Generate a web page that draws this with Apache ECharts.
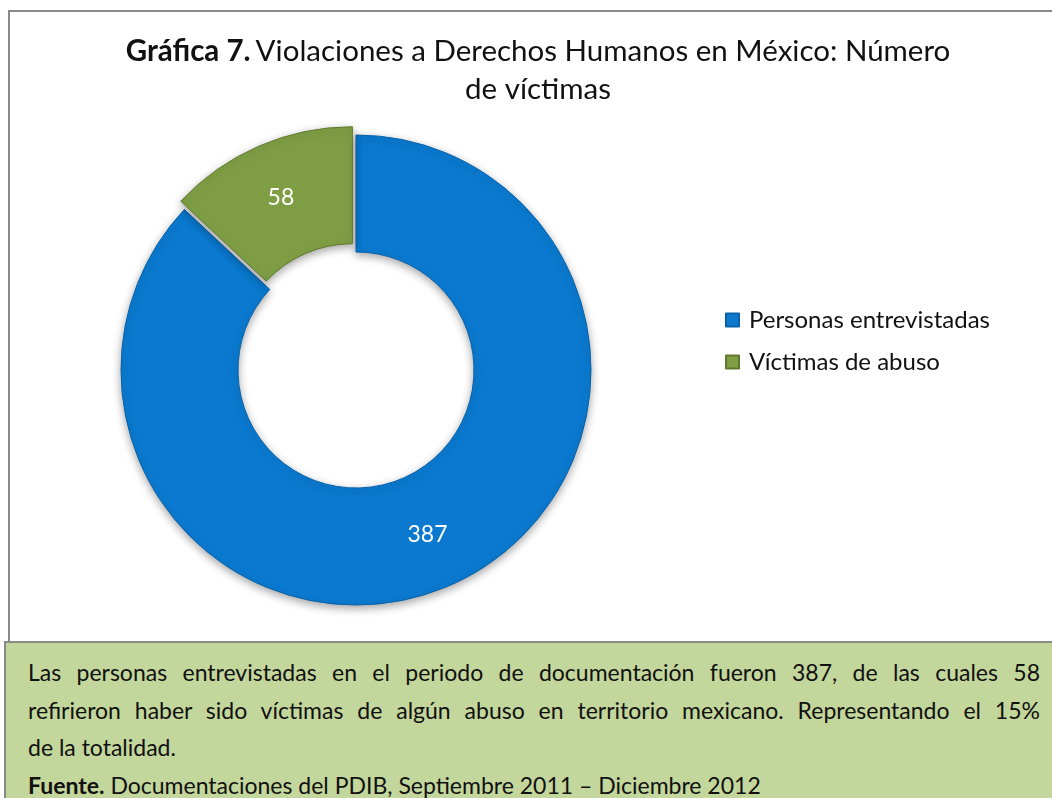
<!DOCTYPE html>
<html>
<head>
<meta charset="utf-8">
<script src="https://cdn.jsdelivr.net/npm/echarts@6/dist/echarts.min.js"></script>
<style>
  html, body { margin: 0; padding: 0; background: #fff; overflow: hidden; }
  #chart { position: absolute; left: 0; top: 0; width: 1052px; height: 798px; }
  #note {
    position: absolute; left: 4px; top: 641px; width: 1100px; height: 200px;
    background: #C3D69B; border-top: 2px solid #8a8a8a; border-left: 2px solid #8a8a8a;
    box-sizing: border-box; padding: 11px 0 0 22px;
    font-family: Lato, "Open Sans", sans-serif; font-size: 23px; color: #111;
  }
  #note .ln { width: 1012px; line-height: 37.5px; white-space: nowrap; }
  #note .j { text-align: justify; text-align-last: justify; white-space: normal; }
</style>
</head>
<body>
<div id="chart"></div>
<div id="note"></div>
<script>
// ---- data ----
const categories = ['Personas entrevistadas', 'Víctimas de abuso'];
const values = [387, 58];
const titleBold = 'Gráfica 7.';
const titleLine1 = 'Violaciones a Derechos Humanos en México: Número';
const titleLine2 = 'de víctimas';
const noteLines = [
  'Las personas entrevistadas en el periodo de documentación fueron 387, de las cuales 58',
  'refirieron haber sido víctimas de algún abuso en territorio mexicano. Representando el 15%',
  'de la totalidad.'
];
const sourceBold = 'Fuente.';
const sourceText = 'Documentaciones del PDIB, Septiembre 2011 – Diciembre 2012';

// ---- note box (HTML text, justified like the original) ----
const note = document.getElementById('note');
noteLines.forEach((t, i) => {
  const d = document.createElement('div');
  d.className = 'ln' + (i < 2 ? ' j' : '');
  d.textContent = t;
  note.appendChild(d);
});
const src = document.createElement('div');
src.className = 'ln';
const b = document.createElement('b');
b.textContent = sourceBold;
src.appendChild(b);
src.appendChild(document.createTextNode(' ' + sourceText));
note.appendChild(src);

// ---- chart ----
const FONT = 'Lato, "Open Sans", sans-serif';
const sliceColors = ['#0A79CF', '#7F9E44'];
const sliceBorders = ['#0862AA', '#61792F'];

const chart = echarts.init(document.getElementById('chart'), null, { renderer: 'canvas' });
chart.setOption({
  animation: false,
  backgroundColor: '#ffffff',
  graphic: [{
    type: 'rect',
    z: -10,
    shape: { x: 9, y: 11, width: 1100, height: 700 },
    style: { fill: '#ffffff', stroke: '#8a8a8a', lineWidth: 2 }
  }],
  title: {
    text: '{b|' + titleBold + '} {n|' + titleLine1 + '}\n{n|' + titleLine2 + '}',
    left: 538,
    top: 32,
    textAlign: 'center',
    padding: 0,
    textStyle: {
      rich: {
        b: { fontFamily: FONT, fontSize: 29.5, fontWeight: 'bold', color: '#111', lineHeight: 38 },
        n: { fontFamily: FONT, fontSize: 29.5, fontWeight: 'normal', color: '#111', lineHeight: 38 }
      }
    }
  },
  legend: {
    orient: 'vertical',
    left: 720,
    top: 303,
    itemWidth: 13,
    itemHeight: 13,
    itemGap: 18,
    icon: 'rect',
    data: categories,
    selectedMode: false,
    textStyle: { fontFamily: FONT, fontSize: 24, color: '#111', lineHeight: 24, padding: [0, 0, 0, 5] }
  },
  series: [{
    type: 'pie',
    center: [356, 370],
    radius: [118, 235],
    startAngle: 90,
    clockwise: true,
    selectedMode: 'single',
    selectedOffset: 9,
    avoidLabelOverlap: false,
    emphasis: { disabled: true },
    label: {
      show: true,
      position: 'inside',
      formatter: '{c}',
      color: '#ffffff',
      fontFamily: FONT,
      fontSize: 23
    },
    labelLine: { show: false },
    itemStyle: {
      shadowBlur: 8,
      shadowOffsetY: 3,
      shadowColor: 'rgba(0,0,0,0.35)'
    },
    data: categories.map((name, i) => ({
      name: name,
      value: values[i],
      selected: i === 1,
      itemStyle: { color: sliceColors[i], borderColor: sliceBorders[i], borderWidth: 1 },
      select: { itemStyle: { color: sliceColors[i], borderColor: sliceBorders[i], borderWidth: 1 } }
    }))
  }]
});
</script>
</body>
</html>
